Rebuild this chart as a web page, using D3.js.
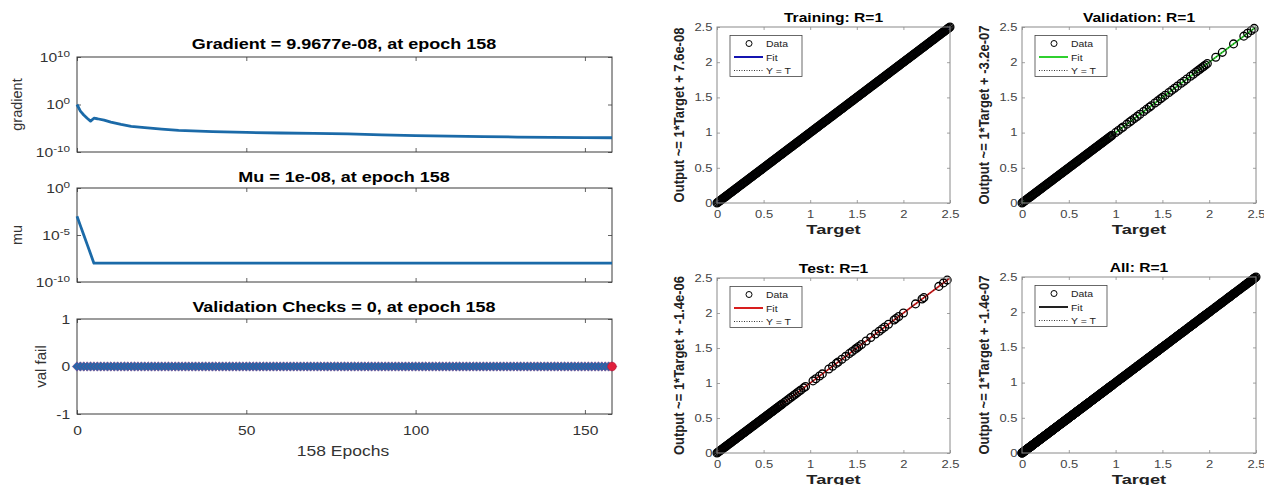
<!DOCTYPE html>
<html><head><meta charset="utf-8">
<script src="https://cdn.jsdelivr.net/npm/d3@7"></script>
<style>body{margin:0;background:#fff}svg text{font-family:"Liberation Sans",Arial,Helvetica,sans-serif}</style>
</head><body><svg id="c" width="1264" height="485"></svg>
<script>
// ---------------- data ----------------
const epochTicks = [0, 50, 100, 150];
const gradEpochs = [0,1,2,3,4,5,6,8,10,13,16,20,25,30,40,50,60,70,80,90,100,110,120,130,140,150,158];
const gradValues = [1,4e-2,6.3e-3,1.3e-3,3.2e-4,1.3e-3,1e-3,5e-4,2e-4,6.3e-5,2.5e-5,1.3e-5,6.3e-6,3.5e-6,2e-6,1.3e-6,1e-6,8e-7,6.3e-7,4e-7,2.8e-7,2.2e-7,1.8e-7,1.4e-7,1.2e-7,1.07e-7,9.9677e-8];
const gradTicks = [1e-10, 1e0, 1e10];
const muEpochs = [0,1,2,3,4,5,158];
const muValues = [1e-3,1e-4,1e-5,1e-6,1e-7,1e-8,1e-8];
const muTicks = [1e-10, 1e-5, 1e0];
const valFail = [
0,0,0,0,0,0,0,0,0,0,0,0,0,0,0,0,0,0,0,0,
0,0,0,0,0,0,0,0,0,0,0,0,0,0,0,0,0,0,0,0,
0,0,0,0,0,0,0,0,0,0,0,0,0,0,0,0,0,0,0,0,
0,0,0,0,0,0,0,0,0,0,0,0,0,0,0,0,0,0,0,0,
0,0,0,0,0,0,0,0,0,0,0,0,0,0,0,0,0,0,0,0,
0,0,0,0,0,0,0,0,0,0,0,0,0,0,0,0,0,0,0,0,
0,0,0,0,0,0,0,0,0,0,0,0,0,0,0,0,0,0,0,0,
0,0,0,0,0,0,0,0,0,0,0,0,0,0,0,0,0,0,0];
const valTicks = [-1, 0, 1];
const bestEpoch = 158;

const regTicks = [0, 0.5, 1, 1.5, 2, 2.5];
const trainTarget = [
0,0.01,0.02,0.03,0.04,0.05,0.06,0.07,0.08,0.09,
0.1,0.11,0.12,0.13,0.14,0.15,0.16,0.17,0.18,0.19,
0.2,0.21,0.22,0.23,0.24,0.25,0.26,0.27,0.28,0.29,
0.3,0.31,0.32,0.33,0.34,0.35,0.36,0.37,0.38,0.39,
0.4,0.41,0.42,0.43,0.44,0.45,0.46,0.47,0.48,0.49,
0.5,0.51,0.52,0.53,0.54,0.55,0.56,0.57,0.58,0.59,
0.6,0.61,0.62,0.63,0.64,0.65,0.66,0.67,0.68,0.69,
0.7,0.71,0.72,0.73,0.74,0.75,0.76,0.77,0.78,0.79,
0.8,0.81,0.82,0.83,0.84,0.85,0.86,0.87,0.88,0.89,
0.9,0.91,0.92,0.93,0.94,0.95,0.96,0.97,0.98,0.99,
1,1.01,1.02,1.03,1.04,1.05,1.06,1.07,1.08,1.09,
1.1,1.11,1.12,1.13,1.14,1.15,1.16,1.17,1.18,1.19,
1.2,1.21,1.22,1.23,1.24,1.25,1.26,1.27,1.28,1.29,
1.3,1.31,1.32,1.33,1.34,1.35,1.36,1.37,1.38,1.39,
1.4,1.41,1.42,1.43,1.44,1.45,1.46,1.47,1.48,1.49,
1.5,1.51,1.52,1.53,1.54,1.55,1.56,1.57,1.58,1.59,
1.6,1.61,1.62,1.63,1.64,1.65,1.66,1.67,1.68,1.69,
1.7,1.71,1.72,1.73,1.74,1.75,1.76,1.77,1.78,1.79,
1.8,1.81,1.82,1.83,1.84,1.85,1.86,1.87,1.88,1.89,
1.9,1.91,1.92,1.93,1.94,1.95,1.96,1.97,1.98,1.99,
2,2.01,2.02,2.03,2.04,2.05,2.06,2.07,2.08,2.09,
2.1,2.11,2.12,2.13,2.14,2.15,2.16,2.17,2.18,2.19,
2.2,2.21,2.22,2.23,2.24,2.25,2.26,2.27,2.28,2.29,
2.3,2.31,2.32,2.33,2.34,2.35,2.36,2.37,2.38,2.39,
2.4,2.41,2.42,2.43,2.44,2.45,2.46,2.47,2.48,2.49,2.5];
const trainOutput = trainTarget.slice();           // R = 1: outputs coincide with targets
const valTarget = [
0,0.01,0.02,0.03,0.04,0.05,0.06,0.07,0.08,0.09,
0.1,0.11,0.12,0.13,0.14,0.15,0.16,0.17,0.18,0.19,
0.2,0.21,0.22,0.23,0.24,0.25,0.26,0.27,0.28,0.29,
0.3,0.31,0.32,0.33,0.34,0.35,0.36,0.37,0.38,0.39,
0.4,0.41,0.42,0.43,0.44,0.45,0.46,0.47,0.48,0.49,
0.5,0.51,0.52,0.53,0.54,0.55,0.56,0.57,0.58,0.59,
0.6,0.61,0.62,0.63,0.64,0.65,0.66,0.67,0.68,0.69,
0.7,0.71,0.72,0.73,0.74,0.75,0.76,0.77,0.78,0.79,
0.8,0.81,0.82,0.83,0.84,0.85,0.86,0.87,0.88,0.89,
0.9,0.91,0.92,0.93,0.94,0.95,0.96,
1.00,1.03,1.06,1.08,1.12,1.15,1.17,1.20,1.23,1.26,1.30,1.33,1.36,1.38,1.42,1.45,1.48,1.50,1.53,1.57,
1.60,1.63,1.66,1.70,1.73,1.76,1.80,1.83,1.86,1.88,1.90,1.92,1.94,1.96,1.98,2.07,2.14,2.26,2.37,2.41,2.45,2.48];
const valOutput = valTarget.slice();
const testTarget = [
0,0.01,0.02,0.03,0.04,0.05,0.06,0.07,0.08,0.09,
0.1,0.11,0.12,0.13,0.14,0.15,0.16,0.17,0.18,0.19,
0.2,0.21,0.22,0.23,0.24,0.25,0.26,0.27,0.28,0.29,
0.3,0.31,0.32,0.33,0.34,0.35,0.36,0.37,0.38,0.39,
0.4,0.41,0.42,0.43,0.44,0.45,0.46,0.47,0.48,0.49,
0.5,0.51,0.52,0.53,0.54,0.55,0.56,0.57,0.58,0.59,
0.6,0.61,0.62,0.63,0.64,0.65,0.66,0.67,0.68,0.69,
0.7,0.72,0.74,0.76,0.78,0.80,0.82,0.84,0.86,0.88,0.90,
0.93,0.95,1.03,1.06,1.10,1.13,1.20,1.24,1.28,1.30,1.34,1.38,1.42,1.45,1.48,1.50,1.52,1.55,1.60,1.65,
1.70,1.74,1.77,1.80,1.84,1.90,1.92,1.95,2.00,2.13,2.20,2.22,2.38,2.43,2.47];
const testOutput = testTarget.slice();
const allTarget = trainTarget.concat(valTarget, testTarget);
const allOutput = trainOutput.concat(valOutput, testOutput);

// ---------------- helpers ----------------
const svg = d3.select('#c');
svg.append('rect').attr('width', 1264).attr('height', 485).attr('fill', '#fff');
const FONT = '"Liberation Sans",Arial,Helvetica,sans-serif';

function addText(g, x, y, str, o) {
  return g.append('text')
    .attr('transform', `translate(${x},${y}) scale(${o.sx || 1},1)` + (o.rot ? ' rotate(-90)' : ''))
    .attr('text-anchor', o.anchor || 'middle')
    .attr('font-size', o.size)
    .attr('font-weight', o.weight || 'normal')
    .attr('fill', o.fill || '#000')
    .text(str);
}
function styleAxis(sel, color, size, sx, textFill) {
  sel.select('.domain').remove();
  sel.attr('font-family', FONT).attr('font-size', size);
  sel.selectAll('.tick line').attr('stroke', color).attr('stroke-width', 0.8);
  sel.selectAll('.tick text').attr('fill', textFill).attr('transform', `scale(${sx},1)`);
}
function supFormat(sel) {
  sel.selectAll('.tick text').each(function (d) {
    const t = d3.select(this);
    t.text(null);
    t.append('tspan').text('10');
    t.append('tspan').attr('dy', '-0.5em').attr('font-size', '0.75em').text(String(Math.round(Math.log10(d))));
  });
}

// ---------------- left: training state ----------------
const xE = d3.scaleLinear().domain([0, 158]).range([77, 612]);
const LC = '#3a3a3a', LSX = 1.25;

function leftPanel(y0, y1, yScale, yTicks, log, showX) {
  const g = svg.append('g');
  const axB = d3.axisBottom(xE).tickValues(epochTicks).tickSizeInner(-4).tickSizeOuter(0).tickPadding(12)
    .tickFormat(showX ? (d => String(d)) : (() => ''));
  g.append('g').attr('transform', `translate(0,${y1})`).call(axB).call(s => styleAxis(s, LC, 12.5, LSX, '#333'));
  const axT = d3.axisTop(xE).tickValues(epochTicks).tickSizeInner(-4).tickSizeOuter(0).tickFormat(() => '');
  g.append('g').attr('transform', `translate(0,${y0})`).call(axT).call(s => styleAxis(s, LC, 12, 1, '#333'));
  const axL = d3.axisLeft(yScale).tickValues(yTicks).tickSizeInner(-4).tickSizeOuter(0).tickPadding(5.5)
    .tickFormat(d => String(d));
  const gl = g.append('g').attr('transform', `translate(77,0)`).call(axL).call(s => styleAxis(s, LC, 12.5, LSX, '#333'));
  if (log) supFormat(gl);
  const axR = d3.axisRight(yScale).tickValues(yTicks).tickSizeInner(-4).tickSizeOuter(0).tickFormat(() => '');
  g.append('g').attr('transform', `translate(612,0)`).call(axR).call(s => styleAxis(s, LC, 12, 1, '#333'));
  g.append('rect').attr('x', 77).attr('y', y0).attr('width', 535).attr('height', y1 - y0)
    .attr('fill', 'none').attr('stroke', LC).attr('stroke-width', 1);
  return g;
}

// Gradient
const yG = d3.scaleLog().domain([1e-10, 1e10]).range([152, 57]);
const gG = leftPanel(57, 152, yG, gradTicks, true, false);
gG.append('path').datum(gradEpochs.map((e, i) => [e, gradValues[i]]))
  .attr('d', d3.line().x(d => xE(d[0])).y(d => yG(d[1])))
  .attr('fill', 'none').attr('stroke', '#1b6aa8').attr('stroke-width', 2.8).attr('stroke-linejoin', 'round');
addText(svg, 344, 49, 'Gradient = 9.9677e-08, at epoch 158', {size: 15, weight: 'bold', sx: 1.2});
addText(svg, 22, 104.5, 'gradient', {size: 14.5, rot: true, fill: '#333'});

// Mu
const yM = d3.scaleLog().domain([1e-10, 1e0]).range([282, 188]);
const gM = leftPanel(188, 282, yM, muTicks, true, false);
gM.append('path').datum(muEpochs.map((e, i) => [e, muValues[i]]))
  .attr('d', d3.line().x(d => xE(d[0])).y(d => yM(d[1])))
  .attr('fill', 'none').attr('stroke', '#1b6aa8').attr('stroke-width', 2.8).attr('stroke-linejoin', 'round');
addText(svg, 344, 182, 'Mu = 1e-08, at epoch 158', {size: 15, weight: 'bold', sx: 1.2});
addText(svg, 21.5, 235, 'mu', {size: 14.5, rot: true, fill: '#333'});

// Validation checks
const yV = d3.scaleLinear().domain([-1, 1]).range([414, 319]);
const gV = leftPanel(319, 414, yV, valTicks, false, true);
const diamond = d3.symbol(d3.symbolSquare, 44);
gV.selectAll('path.vf').data(valFail).join('path').attr('class', 'vf')
  .attr('d', diamond)
  .attr('transform', (d, i) => `translate(${xE(i)},${yV(d)}) rotate(45)`)
  .attr('fill', '#2168aa').attr('stroke', '#83428a').attr('stroke-width', 0.6);
gV.append('circle').attr('cx', xE(bestEpoch)).attr('cy', yV(valFail[bestEpoch])).attr('r', 4.3)
  .attr('fill', '#e0203c').attr('stroke', '#c01030').attr('stroke-width', 0.6);
addText(svg, 344, 312, 'Validation Checks = 0, at epoch 158', {size: 15, weight: 'bold', sx: 1.2});
addText(svg, 46, 366.5, 'val fail', {size: 15, rot: true, fill: '#333'});
addText(svg, 343, 456, '158 Epochs', {size: 14, sx: 1.25, fill: '#333'});

// ---------------- right: regression ----------------
const RC = '#8a8a8a', RSX = 1.3;
function regPanel(x0, x1, y0, y1, title, ylab, target, output, fitColor) {
  const g = svg.append('g');
  const xs = d3.scaleLinear().domain([0, 2.5]).range([x0, x1]);
  const ys = d3.scaleLinear().domain([0, 2.5]).range([y1, y0]);
  g.append('g').attr('transform', `translate(0,${y1})`)
    .call(d3.axisBottom(xs).tickValues(regTicks).tickSizeInner(-3).tickSizeOuter(0).tickPadding(8).tickFormat(d => String(d)))
    .call(s => styleAxis(s, RC, 10, RSX, '#444'));
  g.append('g').attr('transform', `translate(0,${y0})`)
    .call(d3.axisTop(xs).tickValues(regTicks).tickSizeInner(-3).tickSizeOuter(0).tickFormat(() => ''))
    .call(s => styleAxis(s, RC, 10, 1, '#444'));
  g.append('g').attr('transform', `translate(${x0},0)`)
    .call(d3.axisLeft(ys).tickValues(regTicks).tickSizeInner(-3).tickSizeOuter(0).tickPadding(3.5).tickFormat(d => String(d)))
    .call(s => styleAxis(s, RC, 10, RSX, '#444'));
  g.append('g').attr('transform', `translate(${x1},0)`)
    .call(d3.axisRight(ys).tickValues(regTicks).tickSizeInner(-3).tickSizeOuter(0).tickFormat(() => ''))
    .call(s => styleAxis(s, RC, 10, 1, '#444'));
  // fit line
  g.append('line').attr('x1', xs(0)).attr('y1', ys(0)).attr('x2', xs(2.5)).attr('y2', ys(2.5))
    .attr('stroke', fitColor).attr('stroke-width', 1.6);
  // data circles
  g.selectAll('circle.d').data(target).join('circle').attr('class', 'd')
    .attr('cx', d => xs(d)).attr('cy', (d, i) => ys(output[i])).attr('r', 3.9)
    .attr('fill', 'none').attr('stroke', '#000').attr('stroke-width', 1.3);
  // Y = T
  g.append('line').attr('x1', xs(0)).attr('y1', ys(0)).attr('x2', xs(2.5)).attr('y2', ys(2.5))
    .attr('stroke', '#000').attr('stroke-width', 0.8).attr('stroke-dasharray', '1,2');
  g.append('rect').attr('x', x0).attr('y', y0).attr('width', x1 - x0).attr('height', y1 - y0)
    .attr('fill', 'none').attr('stroke', RC).attr('stroke-width', 1);
  // legend
  const lx = x0 + 13, ly = y0 + 8.5;
  const lg = g.append('g');
  lg.append('rect').attr('x', lx).attr('y', ly).attr('width', 72).attr('height', 41)
    .attr('fill', '#fff').attr('stroke', '#444').attr('stroke-width', 0.8);
  lg.append('circle').attr('cx', lx + 19).attr('cy', ly + 8).attr('r', 3).attr('fill', 'none').attr('stroke', '#000').attr('stroke-width', 1);
  lg.append('line').attr('x1', lx + 4).attr('x2', lx + 33).attr('y1', ly + 21.5).attr('y2', ly + 21.5)
    .attr('stroke', fitColor).attr('stroke-width', 2);
  lg.append('line').attr('x1', lx + 4).attr('x2', lx + 33).attr('y1', ly + 35).attr('y2', ly + 35)
    .attr('stroke', '#000').attr('stroke-width', 0.8).attr('stroke-dasharray', '1,1.5');
  addText(lg, lx + 36, ly + 11.5, 'Data', {size: 9.5, sx: 1.1, anchor: 'start', fill: '#222'});
  addText(lg, lx + 36, ly + 25, 'Fit', {size: 9.5, sx: 1.1, anchor: 'start', fill: '#222'});
  addText(lg, lx + 36, ly + 38.5, 'Y = T', {size: 9.5, sx: 1.1, anchor: 'start', fill: '#222'});
  // labels
  addText(svg, (x0 + x1) / 2, y0 - 5.5, title, {size: 12, weight: 'bold', sx: 1.3});
  addText(svg, (x0 + x1) / 2, y1 + 31, 'Target', {size: 13.5, weight: 'bold', sx: 1.35, fill: '#222'});
  addText(svg, x0 - 33, (y0 + y1) / 2, ylab, {size: 13, weight: 'bold', sx: 1.08, rot: true, fill: '#222'});
}

regPanel(717, 950, 27, 203, 'Training: R=1', 'Output ~= 1*Target + 7.6e-08', trainTarget, trainOutput, '#1414b0');
regPanel(1022, 1256, 27, 203, 'Validation: R=1', 'Output ~= 1*Target + -3.2e-07', valTarget, valOutput, '#2fd02f');
regPanel(717, 950, 278, 453, 'Test: R=1', 'Output ~= 1*Target + -1.4e-06', testTarget, testOutput, '#d81e1e');
regPanel(1022, 1256, 277, 453, 'All: R=1', 'Output ~= 1*Target + -1.4e-07', allTarget, allOutput, '#222222');
</script></body></html>
